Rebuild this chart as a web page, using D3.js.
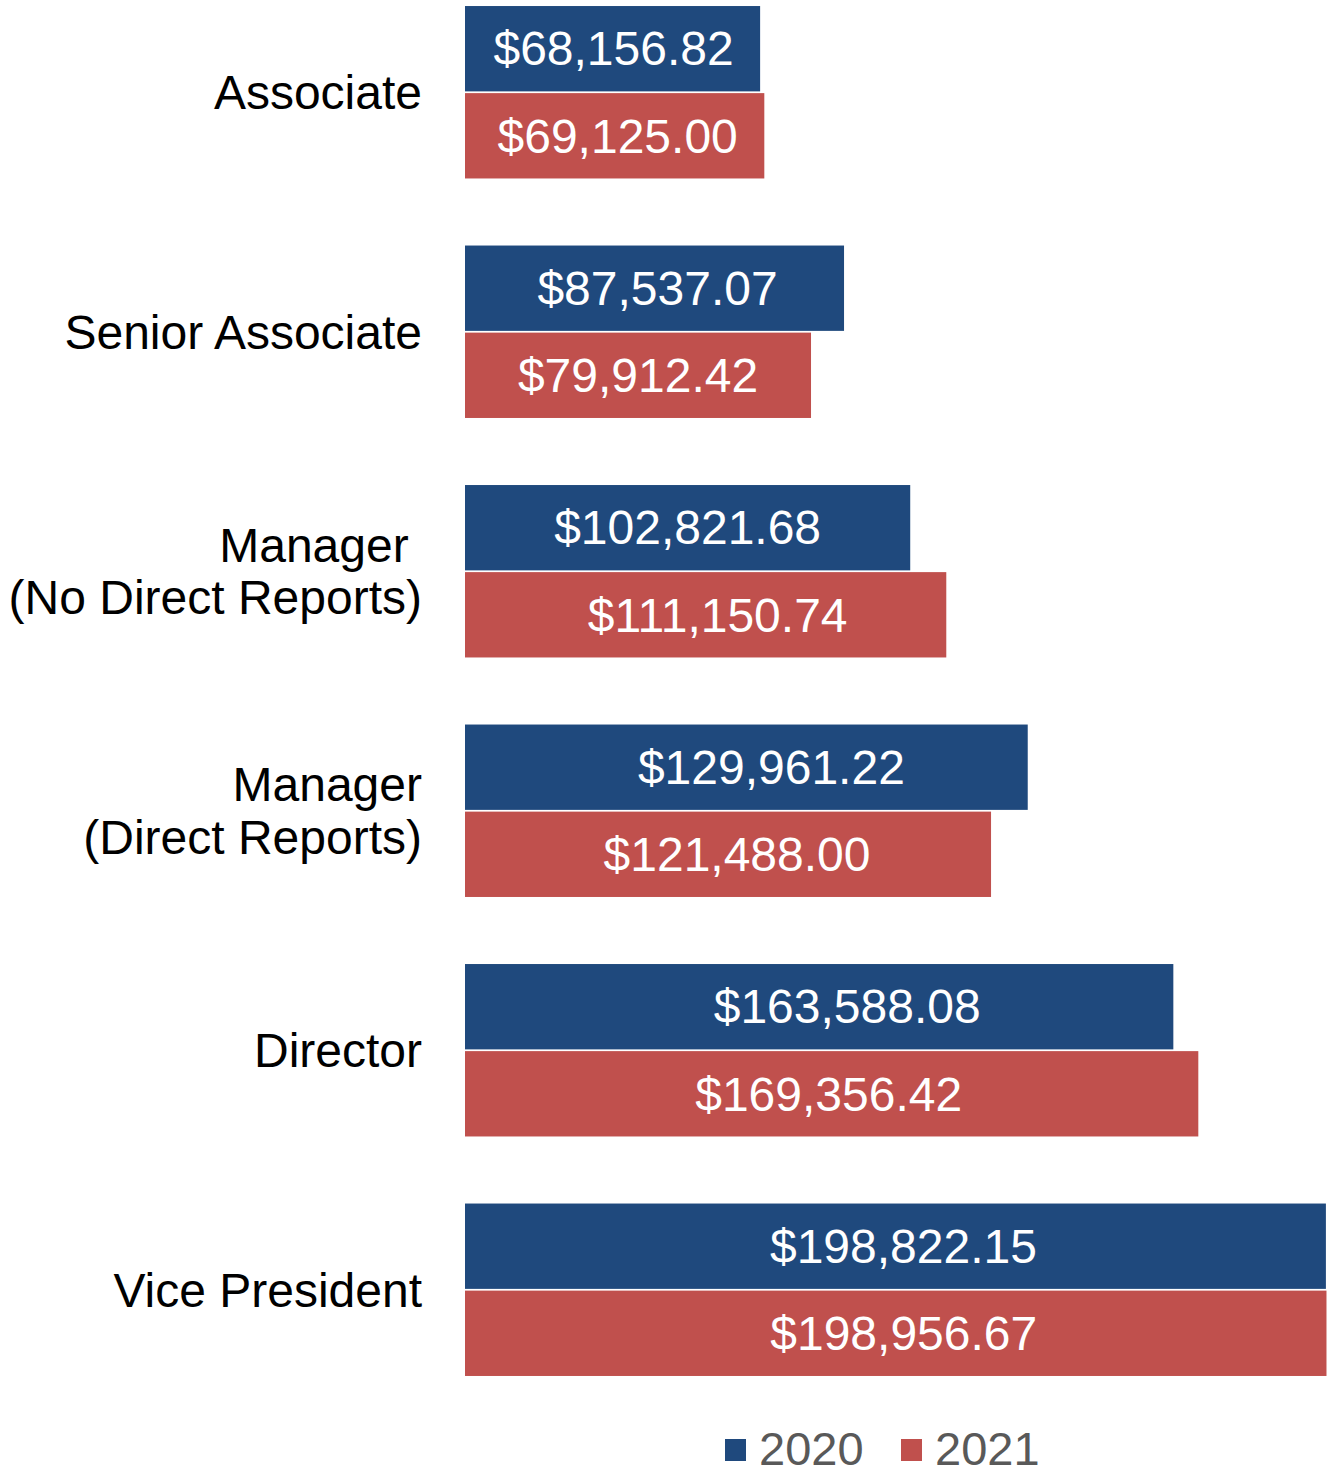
<!DOCTYPE html>
<html>
<head>
<meta charset="utf-8">
<script src="https://cdn.jsdelivr.net/npm/d3@7"></script>
<style>
  body { margin: 0; background: #fff; }
  text { font-family: "Liberation Sans", Arial, sans-serif; }
</style>
</head>
<body>
<div id="chart"></div>
<script>
// data
var categories = ["Associate", "Senior Associate", "Manager (No Direct Reports)",
                  "Manager (Direct Reports)", "Director", "Vice President"];
var categoryLines = [["Associate"], ["Senior Associate"], ["Manager ", "(No Direct Reports)"],
                     ["Manager", "(Direct Reports)"], ["Director"], ["Vice President"]];
var series = ["2020", "2021"];
var values2020 = [68156.82, 87537.07, 102821.68, 129961.22, 163588.08, 198822.15];
var values2021 = [69125.00, 79912.42, 111150.74, 121488.00, 169356.42, 198956.67];
var colors = ["#1F497D", "#C0504D"];

// small horizontal nudges of the value labels, as placed in the original
var nudge = {"2020": [1, 3, 0, 25, 28, 8], "2021": [3, 0, 12, 9, -3, 8]};

var width = 1331, height = 1468;

var svg = d3.select("#chart").append("svg")
    .attr("width", width)
    .attr("height", height);

// scales
var x = d3.scaleLinear()
    .domain([0, 200000])
    .range([465, 1331]);

var y = d3.scaleBand()
    .domain(categories)
    .range([-27.5, 1409.5])
    .paddingInner(0.28)
    .paddingOuter(0.14);

var ySub = d3.scaleBand()
    .domain(series)
    .range([0, y.bandwidth()])
    .paddingInner(0.02);

var color = d3.scaleOrdinal().domain(series).range(colors);

var rows = categories.map(function(c, i) {
    return {cat: c, lines: categoryLines[i], vals: [
        {s: "2020", v: values2020[i], i: i},
        {s: "2021", v: values2021[i], i: i}
    ]};
});

var fmt = d3.format("$,.2f");

var groups = svg.selectAll(".group")
    .data(rows)
    .enter().append("g")
    .attr("class", "group")
    .attr("transform", function(d) { return "translate(0," + y(d.cat) + ")"; });

groups.selectAll("rect")
    .data(function(d) { return d.vals; })
    .enter().append("rect")
    .attr("x", x(0))
    .attr("y", function(d) { return ySub(d.s); })
    .attr("width", function(d) { return x(d.v) - x(0); })
    .attr("height", ySub.bandwidth())
    .attr("fill", function(d) { return color(d.s); });

groups.selectAll(".val")
    .data(function(d) { return d.vals; })
    .enter().append("text")
    .attr("class", "val")
    .attr("x", function(d) { return (x(0) + x(d.v)) / 2 + nudge[d.s][d.i]; })
    .attr("y", function(d) { return ySub(d.s) + ySub.bandwidth() / 2; })
    .attr("dy", "0.35em")
    .attr("text-anchor", "middle")
    .attr("fill", "#fff")
    .style("font-size", "48px")
    .text(function(d) { return fmt(d.v); });

// category labels
var labels = groups.append("text")
    .attr("text-anchor", "end")
    .attr("fill", "#000")
    .style("font-size", "48px")
    .style("white-space", "pre")
    .attr("y", y.bandwidth() / 2);

labels.selectAll("tspan")
    .data(function(d) { return d.lines.map(function(l) { return {l: l, n: d.lines.length}; }); })
    .enter().append("tspan")
    .attr("x", 422)
    .attr("dy", function(d, i) {
        if (i === 0) return (0.35 - (d.n - 1) * 0.55) + "em";
        return "1.1em";
    })
    .text(function(d) { return d.l; });

// legend
var legend = svg.append("g").attr("class", "legend");
var legX = [725, 901];
series.forEach(function(s, i) {
    legend.append("rect")
        .attr("x", legX[i])
        .attr("y", 1439)
        .attr("width", 21)
        .attr("height", 22)
        .attr("fill", color(s));
    legend.append("text")
        .attr("x", legX[i] + 34)
        .attr("y", 1465)
        .attr("fill", "#595959")
        .style("font-size", "47px")
        .text(s);
});
</script>
</body>
</html>
